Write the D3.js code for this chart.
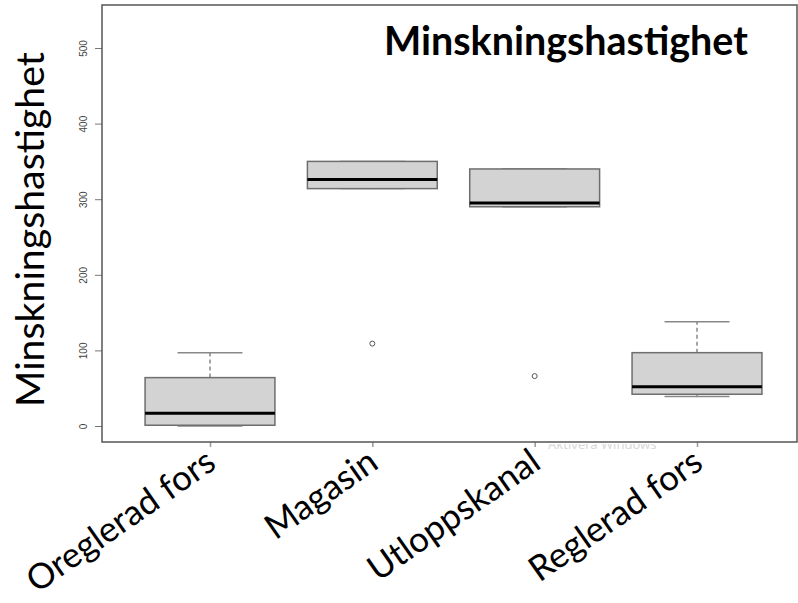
<!DOCTYPE html>
<html>
<head>
<meta charset="utf-8">
<script src="https://cdn.jsdelivr.net/npm/d3@7"></script>
<style>
  body { margin: 0; background: #fff; }
  svg { display: block; }
</style>
</head>
<body>
<svg width="798" height="603"></svg>
<script>
var width = 798;
var height = 603;

// boxplot summaries
var categories = ["Oreglerad fors", "Magasin", "Utloppskanal", "Reglerad fors"];
var lowWhisker = [0, 314, 290, 39];
var q1 = [1, 314, 290, 42];
var medians = [17, 326, 295, 52];
var q3 = [64, 350, 340, 97];
var highWhisker = [97, 350, 340, 138];
var outliers = [[], [109], [66], []];
var yTicks = [0, 100, 200, 300, 400, 500];

var frame = {left: 102, top: 5, right: 797, bottom: 442};

var svg = d3.select("svg");

var y = d3.scaleLinear()
  .domain([0, 500])
  .range([426, 48]);

var x = d3.scalePoint()
  .domain(categories)
  .range([210, 697]);

var half = x.step() * 0.4;

var boxes = categories.map(function(c, i) {
  return {name: c, lo: lowWhisker[i], q1: q1[i], med: medians[i], q3: q3[i], hi: highWhisker[i], out: outliers[i]};
});

// watermark that sits under the axis
svg.append("clipPath").attr("id", "wm")
  .append("rect").attr("x", 0).attr("y", frame.bottom + 2).attr("width", width).attr("height", 30);
svg.append("text")
  .attr("clip-path", "url(#wm)")
  .attr("x", 548).attr("y", 449)
  .attr("font-family", "Noto Sans")
  .attr("font-size", 13)
  .attr("fill", "#d8d8d8")
  .text("Aktivera Windows");

// y axis
var yAxis = d3.axisLeft(y).tickValues(yTicks).tickSize(7).tickPadding(3);
var gy = svg.append("g")
  .attr("transform", "translate(" + frame.left + ",0)")
  .call(yAxis);
gy.select(".domain").remove();
gy.selectAll(".tick line").attr("stroke", "#777");
gy.selectAll(".tick text")
  .attr("font-family", "Liberation Sans")
  .attr("font-size", 10)
  .attr("fill", "#444")
  .attr("transform", "rotate(-90)")
  .attr("x", 0).attr("y", -19)
  .attr("dy", "0.35em")
  .style("text-anchor", "middle");

// x axis ticks only
var xAxis = d3.axisBottom(x).tickSize(5).tickFormat("");
var gx = svg.append("g")
  .attr("transform", "translate(0," + frame.bottom + ")")
  .call(xAxis);
gx.select(".domain").remove();
gx.selectAll(".tick line").attr("stroke", "#999").attr("stroke-width", 1.5);

var g = svg.selectAll(".box")
  .data(boxes).enter()
  .append("g")
  .attr("class", "box");

// whiskers
g.append("line")
  .attr("x1", function(d) { return x(d.name); })
  .attr("x2", function(d) { return x(d.name); })
  .attr("y1", function(d) { return y(d.q3); })
  .attr("y2", function(d) { return y(d.hi); })
  .attr("stroke", "#888").attr("stroke-width", 1.5).attr("stroke-dasharray", "4,3");
g.append("line")
  .attr("x1", function(d) { return x(d.name); })
  .attr("x2", function(d) { return x(d.name); })
  .attr("y1", function(d) { return y(d.q1); })
  .attr("y2", function(d) { return y(d.lo); })
  .attr("stroke", "#888").attr("stroke-width", 1.5).attr("stroke-dasharray", "4,3");

// staples
["hi", "lo"].forEach(function(k) {
  g.append("line")
    .attr("x1", function(d) { return x(d.name) - half / 2; })
    .attr("x2", function(d) { return x(d.name) + half / 2; })
    .attr("y1", function(d) { return y(d[k]); })
    .attr("y2", function(d) { return y(d[k]); })
    .attr("stroke", "#888").attr("stroke-width", 1.5);
});

g.append("rect")
  .attr("x", function(d) { return x(d.name) - half; })
  .attr("width", half * 2)
  .attr("y", function(d) { return y(d.q3); })
  .attr("height", function(d) { return y(d.q1) - y(d.q3); })
  .attr("fill", "#d3d3d3")
  .attr("stroke", "#6e6e6e")
  .attr("stroke-width", 1.5);

g.append("line")
  .attr("x1", function(d) { return x(d.name) - half; })
  .attr("x2", function(d) { return x(d.name) + half; })
  .attr("y1", function(d) { return y(d.med); })
  .attr("y2", function(d) { return y(d.med); })
  .attr("stroke", "#000").attr("stroke-width", 3);

g.selectAll("circle")
  .data(function(d) { return d.out.map(function(v) { return {name: d.name, v: v}; }); })
  .enter().append("circle")
  .attr("cx", function(d) { return x(d.name); })
  .attr("cy", function(d) { return y(d.v); })
  .attr("r", 2.5)
  .attr("fill", "none")
  .attr("stroke", "#555")
  .attr("stroke-width", 1);

// frame
svg.append("rect")
  .attr("x", frame.left).attr("y", frame.top)
  .attr("width", frame.right - frame.left)
  .attr("height", frame.bottom - frame.top)
  .attr("fill", "none")
  .attr("stroke", "#555")
  .attr("stroke-width", 1.5);

function fitWidth(sel, target) {
  var w = sel.node().getComputedTextLength();
  var fs = parseFloat(sel.attr("font-size"));
  sel.attr("font-size", fs * target / w);
}

// title
var title = svg.append("text")
  .attr("x", 384).attr("y", 55)
  .attr("font-family", "Lato")
  .attr("font-weight", "bold")
  .attr("font-size", 32)
  .attr("fill", "#000")
  .text("Minskningshastighet");
fitWidth(title, 364);

// y label
var ylab = svg.append("text")
  .attr("transform", "translate(44,407) rotate(-90)")
  .attr("font-family", "Lato")
  .attr("font-size", 34)
  .attr("fill", "#000")
  .text("Minskningshastighet");
fitWidth(ylab, 355);

// x labels
svg.selectAll(".xlab")
  .data(categories).enter()
  .append("text")
  .attr("class", "xlab")
  .attr("transform", function(d) { return "translate(" + (x(d) + 8) + ",467) rotate(-35)"; })
  .attr("text-anchor", "end")
  .attr("font-family", "Lato")
  .attr("font-size", 35)
  .attr("fill", "#000")
  .text(function(d) { return d; });
</script>
</body>
</html>
